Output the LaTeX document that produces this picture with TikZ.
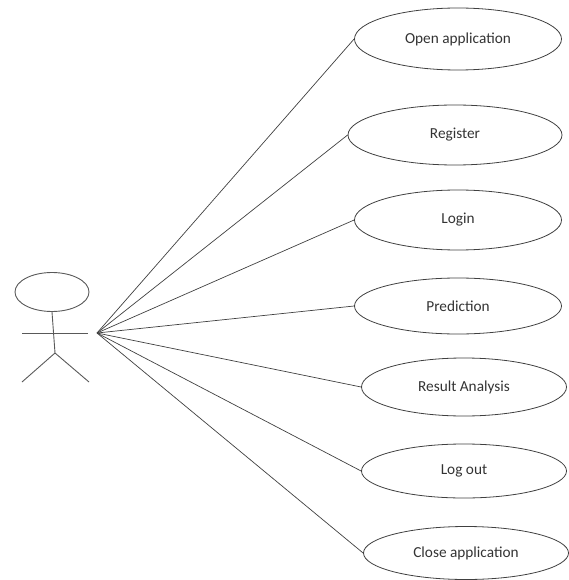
\documentclass[tikz,border=0pt]{standalone}
\usepackage{fontspec}
\setmainfont{Carlito}
\usetikzlibrary{shapes.geometric}
\begin{document}
\begin{tikzpicture}[x=1pt,y=-1pt,
  usecase/.style={draw=black!75,line width=0.8pt,ellipse,inner sep=0pt,
    font=\fontsize{15.3}{17}\selectfont,text=black!80},
  link/.style={draw=black!75,line width=0.7pt},
  actorline/.style={draw=black!65,line width=0.9pt}]
\useasboundingbox (0,0) rectangle (569,580);
% use cases
\node[usecase,minimum width=207pt,minimum height=62pt] (u1) at (458,39) {Open application};
\node[usecase,minimum width=214pt,minimum height=60pt] (u2) at (455,135) {Register};
\node[usecase,minimum width=207pt,minimum height=60pt] (u3) at (458,220) {Login};
\node[usecase,minimum width=207pt,minimum height=56pt] (u4) at (458,306) {Prediction};
\node[usecase,minimum width=205pt,minimum height=58pt] (u5) at (464,387) {Result Analysis};
\node[usecase,minimum width=205pt,minimum height=54pt] (u6) at (464,471) {Log out};
\node[usecase,minimum width=205pt,minimum height=53pt] (u7) at (466,553) {Close application};
% actor
\node[draw=black!65,line width=0.9pt,ellipse,minimum width=74pt,minimum height=39pt,inner sep=0pt] (head) at (52,292) {};
\coordinate (hip) at (55,353);
\coordinate (armL) at (22,333);
\coordinate (armR) at (88,333);
\coordinate (legL) at (22,382);
\coordinate (legR) at (89,382);
\draw[actorline] (head.south) -- (hip);
\draw[actorline] (armL) -- (armR);
\draw[actorline] (hip) -- (legL);
\draw[actorline] (hip) -- (legR);
% hub
\coordinate (hub) at (97,333);
\foreach \u in {u1,u2,u3,u4,u5,u6,u7}
  \draw[link] (hub) -- (\u.west);
\end{tikzpicture}
\end{document}
